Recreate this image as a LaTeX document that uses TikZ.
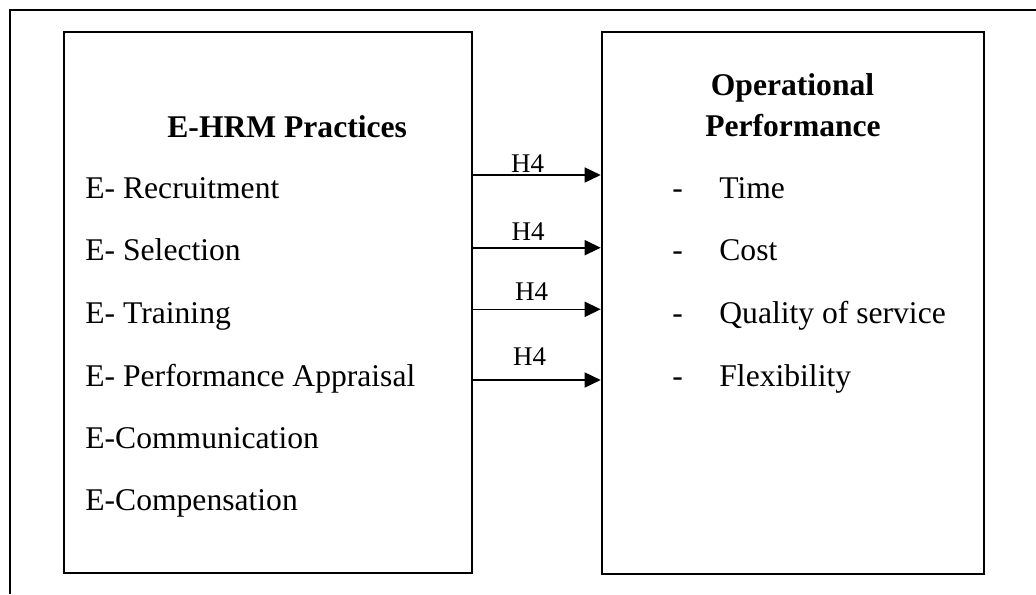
\documentclass[tikz,border=0pt]{standalone}
\usepackage{fontspec}
\setmainfont{Liberation Serif}
\usetikzlibrary{arrows.meta}
\tikzset{
  px/.style={x=0.5pt,y=-0.5pt},
  frame/.style={line width=1pt,black},
  boxnode/.style={draw,line width=1pt,inner sep=0pt,anchor=center},
  item/.style={inner sep=0pt,anchor=base west,font=\fontsize{15.8}{19}\selectfont},
  title/.style={inner sep=0pt,anchor=base,font=\fontsize{15.8}{19}\selectfont\bfseries},
  lab/.style={inner sep=0pt,anchor=base,font=\fontsize{13.5}{16}\selectfont},
  arr/.style={line width=0.8pt,-{Triangle[length=8pt,width=7.5pt]}}
}
\begin{document}
\begin{tikzpicture}[px]
\useasboundingbox (0,0) rectangle (1036,594);
% outer frame (top and left only)
\coordinate (fa) at (10.3,594);
\coordinate (fb) at (10.3,10.3);
\coordinate (fc) at (1036,10.3);
\draw[frame] (fa) -- (fb) -- (fc);
% boxes
\node[boxnode,minimum width=204.25pt,minimum height=270.65pt] (L) at (267.75,302.65) {};
\node[boxnode,minimum width=191pt,minimum height=271.15pt] (R) at (792.7,302.85) {};
% left texts
\node[title,anchor=base west] (lt) at (167,137) {E-HRM Practices};
\node[item] (l1) at (85,198) {E- Recruitment};
\node[item] (l2) at (85,260) {E- Selection};
\node[item] (l3) at (85,323) {E- Training};
\node[item] (l4) at (85,386) {E- Performance Appraisal};
\node[item] (l5) at (85,448) {E-Communication};
\node[item] (l6) at (85,510) {E-Compensation};
% right texts
\node[title] (rt1) at (792.5,95) {Operational};
\node[title] (rt2) at (793,136.7) {Performance};
\node[item] (d1) at (672,198) {-};
\node[item] (r1) at (719,198) {Time};
\node[item] (d2) at (672,260) {-};
\node[item] (r2) at (719,260) {Cost};
\node[item] (d3) at (672,323) {-};
\node[item] (r3) at (719,323) {Quality of service};
\node[item] (d4) at (672,386) {-};
\node[item] (r4) at (719,386) {Flexibility};
% arrows
\coordinate (y1) at (0,175);
\coordinate (y2) at (0,247.7);
\coordinate (y3) at (0,309.3);
\coordinate (y4) at (0,380);
\draw[arr] (L.east |- y1) -- (R.west |- y1);
\draw[arr] (L.east |- y2) -- (R.west |- y2);
\draw[arr] (L.east |- y3) -- (R.west |- y3);
\draw[arr] (L.east |- y4) -- (R.west |- y4);
\node[lab] (h1) at (527.5,172.7) {H4};
\node[lab] (h2) at (528,240) {H4};
\node[lab] (h3) at (531.7,300) {H4};
\node[lab] (h4) at (529.7,365.7) {H4};
\end{tikzpicture}
\end{document}
